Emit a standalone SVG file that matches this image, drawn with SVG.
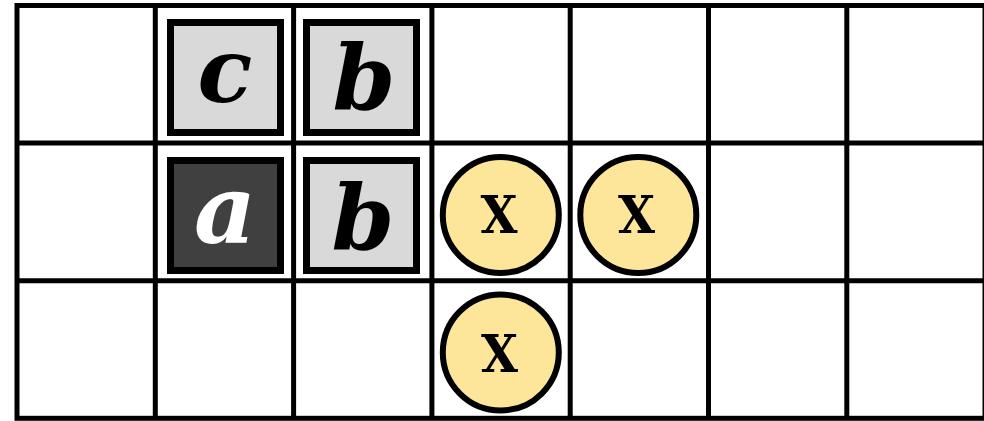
<svg xmlns="http://www.w3.org/2000/svg" width="984" height="421" viewBox="0 0 984 421">
<style>
.grid{fill:none;stroke:#000;stroke-width:5}
.sq{stroke:#000;stroke-width:7}
.light{fill:#d9d9d9}
.dark{fill:#404040}
.lt{font-family:"DejaVu Serif",serif;font-weight:bold;font-style:italic;font-size:90px;text-anchor:middle}
.ci{fill:#fde699;stroke:#000;stroke-width:6}
.x{font-family:"DejaVu Serif Condensed","DejaVu Serif",serif;font-weight:bold;font-size:53px;text-anchor:middle;fill:#000}
</style>
<rect width="984" height="421" fill="#fff"/>
<g id="grid">
<rect class="grid" x="17" y="5.5" width="968" height="412.8"/>
<path class="grid" d="M155.3 5.5V418.3M293.6 5.5V418.3M431.9 5.5V418.3M570.2 5.5V418.3M708.5 5.5V418.3M846.8 5.5V418.3M17 143.1H985M17 280.7H985"/>
</g>
<g id="c">
<rect class="sq light" x="170.5" y="22.5" width="110" height="110"/>
<text class="lt" x="225" y="102">c</text>
</g>
<g id="b1">
<rect class="sq light" x="306.5" y="22.5" width="110" height="110"/>
<text class="lt" x="364" y="109">b</text>
</g>
<g id="a">
<rect class="sq dark" x="170.5" y="160.5" width="110" height="110"/>
<text class="lt" x="225" y="243" fill="#fff" style="font-size:96px">a</text>
</g>
<g id="b2">
<rect class="sq light" x="306.5" y="160.5" width="110" height="110"/>
<text class="lt" x="363" y="249">b</text>
</g>
<g id="x1">
<circle class="ci" cx="500.8" cy="215" r="58"/>
<text class="x" x="499" y="233">X</text>
</g>
<g id="x2">
<circle class="ci" cx="638.3" cy="215" r="58"/>
<text class="x" x="636.5" y="233">X</text>
</g>
<g id="x3">
<circle class="ci" cx="500.8" cy="352.5" r="58"/>
<text class="x" x="499.5" y="371.5">X</text>
</g>
<g id="connectors"/>
</svg>
